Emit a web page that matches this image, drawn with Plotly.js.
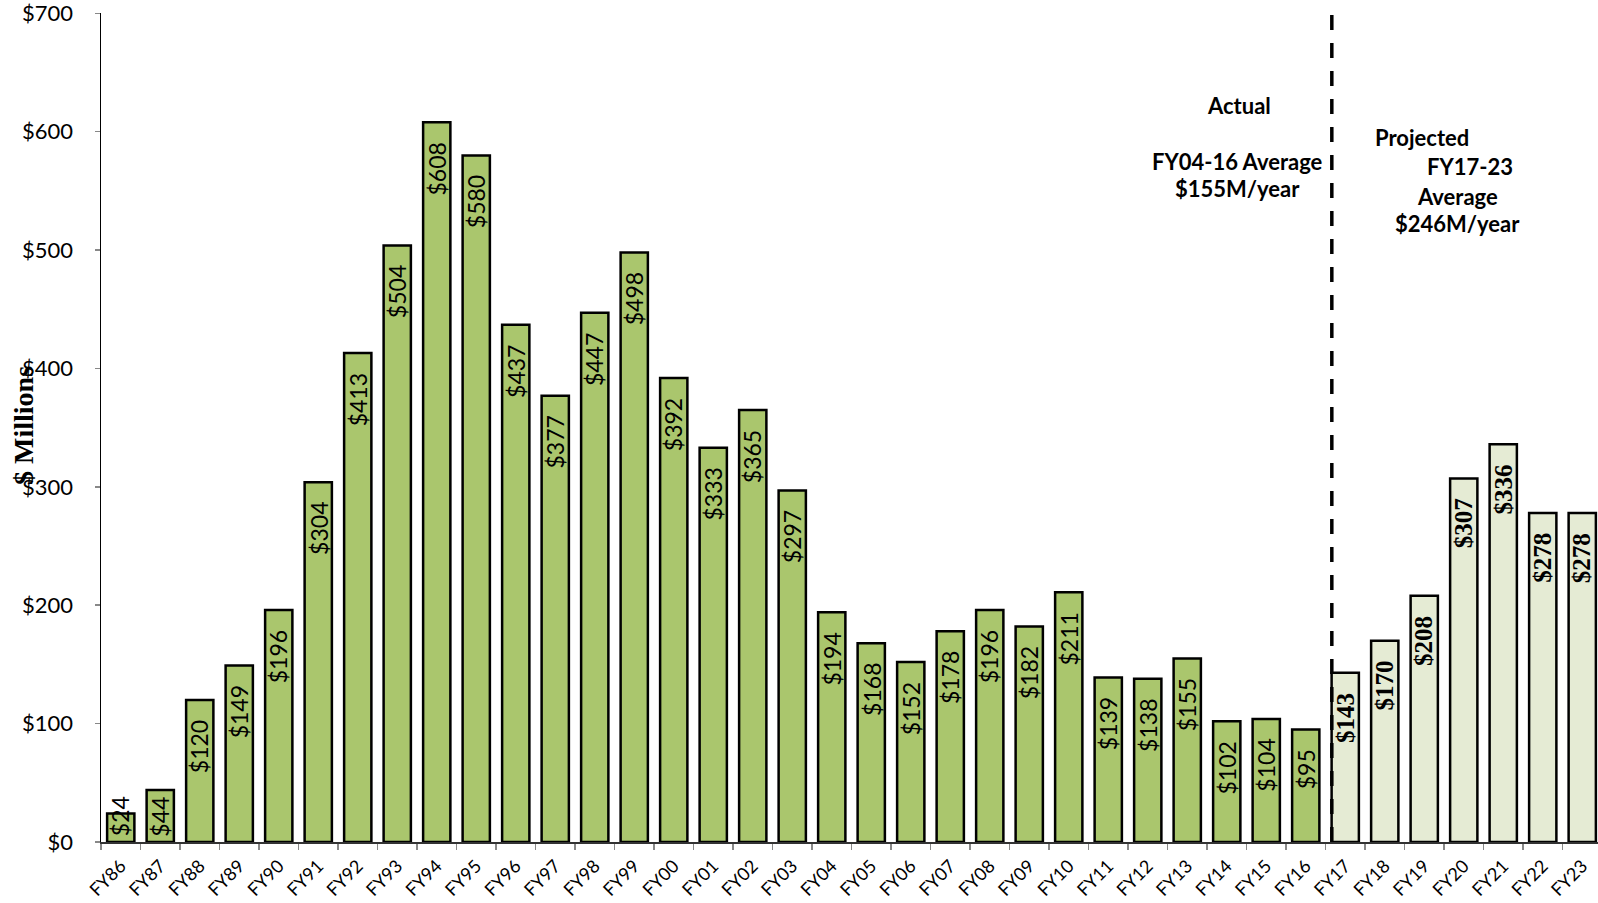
<!DOCTYPE html>
<html>
<head>
<meta charset="utf-8">
<script src="https://cdn.plot.ly/plotly-3.0.1.min.js"></script>
<style>
html, body { margin: 0; padding: 0; overflow: hidden; background: #fff; }
#chart { width: 1602px; height: 903px; }
</style>
</head>
<body>
<div id="chart"></div>
<script>
// ---- Data ----
var actualYears = ["FY86","FY87","FY88","FY89","FY90","FY91","FY92","FY93","FY94","FY95",
  "FY96","FY97","FY98","FY99","FY00","FY01","FY02","FY03","FY04","FY05","FY06","FY07",
  "FY08","FY09","FY10","FY11","FY12","FY13","FY14","FY15","FY16"];
var actualValues = [24,44,120,149,196,304,413,504,608,580,437,377,447,498,392,333,365,297,
  194,168,152,178,196,182,211,139,138,155,102,104,95];
var projectedYears = ["FY17","FY18","FY19","FY20","FY21","FY22","FY23"];
var projectedValues = [143,170,208,307,336,278,278];
var yTickValues = [0,100,200,300,400,500,600,700];
var yTickLabels = ["$0","$100","$200","$300","$400","$500","$600","$700"];

var allYears = actualYears.concat(projectedYears);

// ---- Layout constants ----
var W = 1602, H = 903;
var M = {l: 101, r: 0, t: 13, b: 61};
var plotH = H - M.t - M.b;
var yMax = 700.3;
var pxPerUnit = plotH / yMax;

var actualFill = "#AAC66D";
var projFill = "#E5EBD4";

var traces = [
  {
    type: "bar", x: actualYears, y: actualValues,
    marker: {color: actualFill, line: {color: "#000", width: 2.5}},
    hoverinfo: "x+y", showlegend: false
  },
  {
    type: "bar", x: projectedYears, y: projectedValues,
    marker: {color: projFill, line: {color: "#000", width: 2.5}},
    hoverinfo: "x+y", showlegend: false
  }
];

function barLabel(cat, v, serif, charW) {
  var txt = "$" + v;
  var len = txt.length * charW;
  var barPx = v * pxPerUnit;
  var gap = Math.min(19, barPx - len - 7);
  return {
    x: cat, y: v, xref: "x", yref: "y",
    text: serif ? "<b>" + txt + "</b>" : txt, showarrow: false, textangle: -90,
    xanchor: "center", yanchor: "top", yshift: -gap,
    font: {family: serif ? "Liberation Serif" : "Lato", size: serif ? 25 : 23, color: "#000"},
    borderpad: 0
  };
}

var annotations = [];
actualYears.forEach(function (c, i) {
  annotations.push(barLabel(c, actualValues[i], false, 13.2));
});
projectedYears.forEach(function (c, i) {
  annotations.push(barLabel(c, projectedValues[i], true, 12.8));
});

var noteFont = {family: "Lato", size: 22, color: "#000"};
function note(text, xi, yv) {
  return {x: xi, y: yv, xref: "x", yref: "y", text: "<b>" + text + "</b>", showarrow: false,
          xanchor: "center", yanchor: "middle", font: noteFont, borderpad: 0};
}
annotations.push(note("Actual", 28.31, 622.3));
annotations.push(note("FY04-16 Average", 28.26, 574.8));
annotations.push(note("$155M/year", 28.26, 551.9));
annotations.push(note("Projected", 32.94, 595.4));
annotations.push(note("FY17-23", 34.16, 570.5));
annotations.push(note("Average", 33.83, 545.5));
annotations.push(note("$246M/year", 33.83, 522.5));

annotations.push({
  x: -0.052, y: 0.503, xref: "paper", yref: "paper",
  text: "<b>$ Millions</b>", showarrow: false, textangle: -90,
  xanchor: "center", yanchor: "middle",
  font: {family: "Liberation Serif", size: 28, color: "#000"}
});

var layout = {
  width: W, height: H,
  margin: M,
  paper_bgcolor: "#fff", plot_bgcolor: "#fff",
  barmode: "overlay",
  bargap: 0.31,
  showlegend: false,
  xaxis: {
    type: "category",
    categoryorder: "array", categoryarray: allYears,
    range: [-0.5, allYears.length - 0.5],
    showline: true, linecolor: "#333", linewidth: 1.5,
    ticks: "outside", tickson: "boundaries", ticklen: 6, tickcolor: "#888", tickwidth: 1.5,
    tickangle: -45,
    ticklabelstandoff: 5,
    ticklabeloverflow: "allow",
    tickfont: {family: "Lato", size: 18, color: "#000"},
    showgrid: false, zeroline: false, fixedrange: true
  },
  yaxis: {
    range: [0, yMax],
    tickmode: "array", tickvals: yTickValues, ticktext: yTickLabels,
    showline: true, linecolor: "#000", linewidth: 1.5,
    ticks: "outside", ticklen: 5, tickcolor: "#888", tickwidth: 1.5,
    ticklabelstandoff: 17,
    ticklabeloverflow: "allow",
    tickfont: {family: "Lato", size: 22, color: "#000"},
    showgrid: false, zeroline: false, fixedrange: true
  },
  shapes: [{
    type: "line", xref: "x", yref: "y",
    x0: 30.66, x1: 30.66, y0: 0, y1: 700,
    line: {color: "#000", width: 3.5, dash: "15px,13px"}
  }],
  annotations: annotations
};

Plotly.newPlot("chart", traces, layout, {displayModeBar: false, staticPlot: true});
</script>
</body>
</html>
